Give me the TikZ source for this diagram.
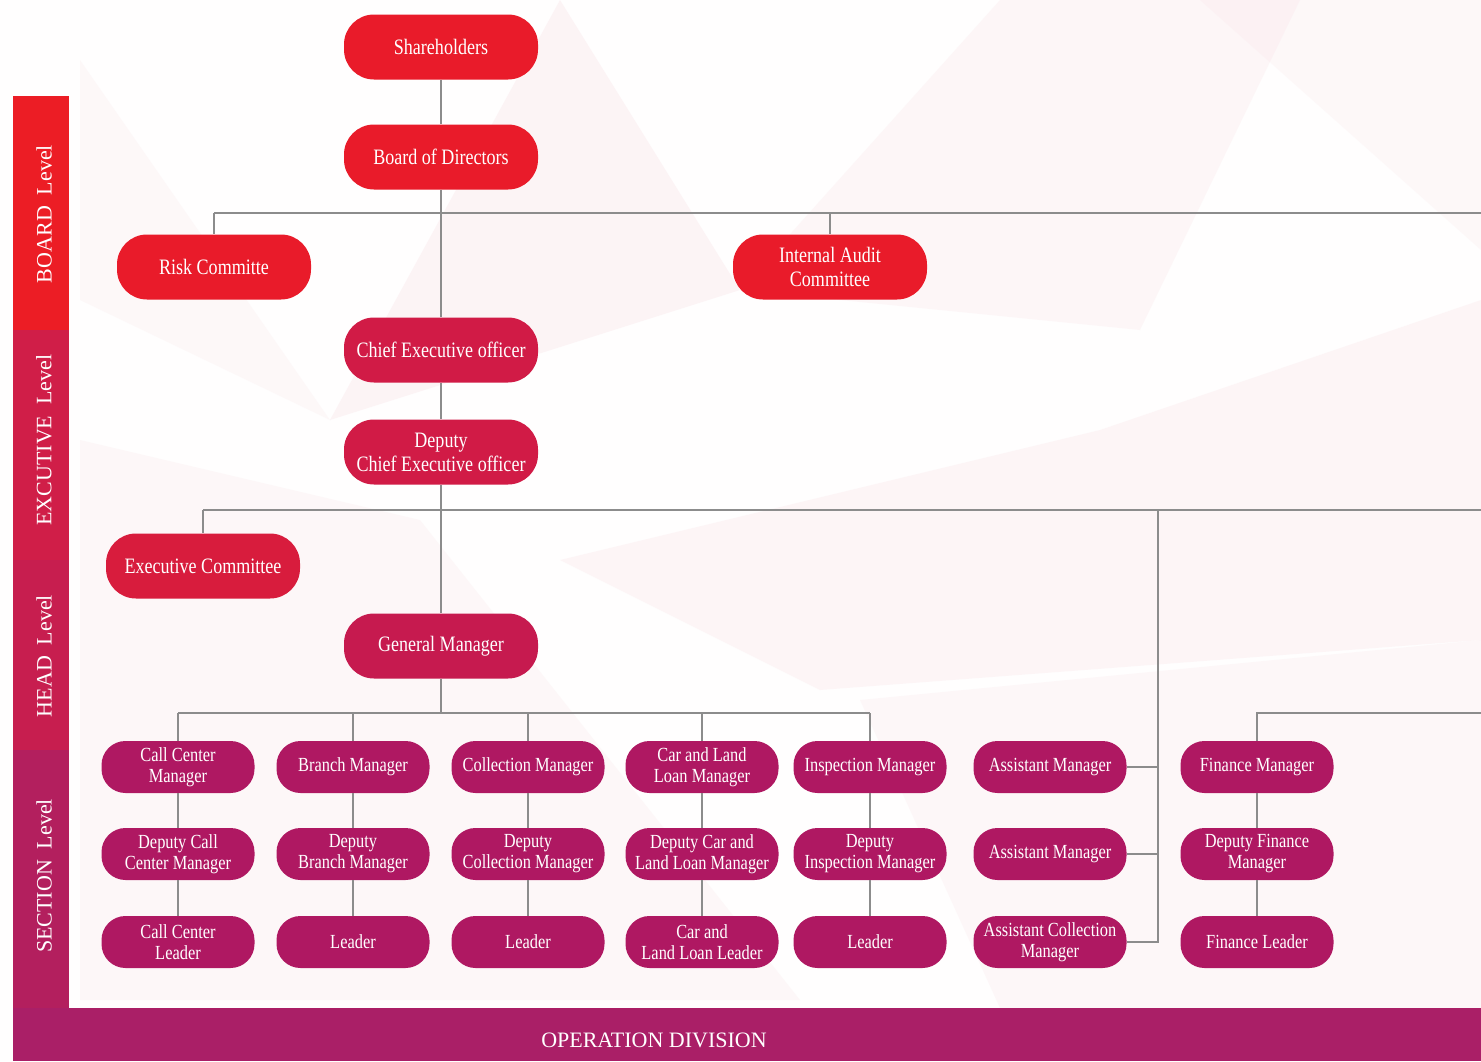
\documentclass[tikz,border=0pt]{standalone}
\usepackage{fontspec}
\setmainfont{Liberation Serif}[FakeStretch=0.82]
\newfontfamily\widefont{Liberation Serif}
\usetikzlibrary{positioning}

\definecolor{boardred}{HTML}{E91B2A}
\definecolor{execred}{HTML}{D11B46}
\definecolor{comred}{HTML}{D81C3D}
\definecolor{headred}{HTML}{C61A4F}
\definecolor{sectred}{HTML}{AF1862}
\definecolor{barboard}{HTML}{EC1D25}
\definecolor{barexec}{HTML}{D01E48}
\definecolor{barhead}{HTML}{C71E4F}
\definecolor{barsect}{HTML}{B31F5E}
\definecolor{opdiv}{HTML}{AA1F67}
\definecolor{linkgray}{HTML}{8C8C8C}
\definecolor{bgpink}{HTML}{F8DDE2}

\begin{document}
\begin{tikzpicture}[x=1pt, y=-1pt,
  big/.style={fill=#1, text=white, rounded corners=30pt, minimum width=194pt,
    minimum height=65pt, align=center, inner sep=2pt,
    font=\fontsize{22}{24}\selectfont},
  small/.style={fill=sectred, text=white, rounded corners=24pt, minimum width=153pt,
    minimum height=52pt, align=center, inner sep=1pt,
    font=\fontsize{20}{21}\selectfont},
  levelbar/.style={text=white, rotate=90, font=\widefont\fontsize{22}{24}\selectfont},
  link/.style={draw=linkgray, line width=1.6pt}]
  \useasboundingbox (0,0) rectangle (1481,1061);
  % background
  \fill[white!96!bgpink] (0,0) rectangle (1481,1061);
  \fill[bgpink, opacity=0.30] (560,0) -- (740,290) -- (330,420) -- cycle;
  \fill[bgpink, opacity=0.22] (740,290) -- (1000,0) -- (1300,0) -- (1140,330) -- cycle;
  \fill[bgpink, opacity=0.20] (80,440) -- (420,520) -- (800,1000) -- (80,1000) -- cycle;
  \fill[bgpink, opacity=0.25] (560,560) -- (1100,430) -- (1481,300) -- (1481,640) -- (820,690) -- cycle;
  \fill[bgpink, opacity=0.18] (1200,0) -- (1481,0) -- (1481,250) -- cycle;
  \fill[bgpink, opacity=0.20] (860,700) -- (1481,640) -- (1481,1008) -- (1000,1008) -- cycle;
  \fill[bgpink, opacity=0.18] (80,60) -- (330,420) -- (80,300) -- cycle;

  % level bar
  \fill[barboard] (13,96) rectangle (69,330);
  \fill[barexec] (13,330) rectangle (69,560);
  \fill[barhead] (13,560) rectangle (69,750);
  \fill[barsect] (13,750) rectangle (69,1010);
  \fill[opdiv] (13,1008) rectangle (1481,1061);
  \node[levelbar] (lvboard) at (44,214) {BOARD\ \ Level};
  \node[levelbar] (lvexec) at (44,440) {EXCUTIVE\ \ Level};
  \node[levelbar] (lvhead) at (44,656) {HEAD\ \ Level};
  \node[levelbar] (lvsect) at (44,876) {SECTION\ \ Level};
  \node[text=white, font=\widefont\fontsize{22}{24}\selectfont] (opdivtxt) at (654,1040) {OPERATION DIVISION};

  % board and executive level
  \node[big=boardred] (share) at (441,47) {Shareholders};
  \node[big=boardred] (board) at (441,157) {Board of Directors};
  \node[big=boardred] (risk) at (214,267) {Risk Committe};
  \node[big=boardred] (audit) at (830,267) {Internal Audit\\Committee};
  \node[big=execred] (ceo) at (441,350) {Chief Executive officer};
  \node[big=execred] (dceo) at (441,452) {Deputy\\Chief Executive officer};
  \node[big=comred] (excom) at (203,566) {Executive Committee};
  \node[big=headred] (gm) at (441,646) {General Manager};

  % section level
  \node[small] (call1) at (178,767) {Call Center\\Manager};
  \node[small] (call2) at (178,854) {Deputy Call\\Center Manager};
  \node[small] (call3) at (178,942) {Call Center\\Leader};
  \node[small] (branch1) at (353,767) {Branch Manager};
  \node[small] (branch2) at (353,854) {Deputy\\Branch Manager};
  \node[small] (branch3) at (353,942) {Leader};
  \node[small] (coll1) at (528,767) {Collection Manager};
  \node[small] (coll2) at (528,854) {Deputy\\Collection Manager};
  \node[small] (coll3) at (528,942) {Leader};
  \node[small] (car1) at (702,767) {Car and Land\\Loan Manager};
  \node[small] (car2) at (702,854) {Deputy Car and\\Land Loan Manager};
  \node[small] (car3) at (702,942) {Car and\\Land Loan Leader};
  \node[small] (insp1) at (870,767) {Inspection Manager};
  \node[small] (insp2) at (870,854) {Deputy\\Inspection Manager};
  \node[small] (insp3) at (870,942) {Leader};
  \node[small] (asst1) at (1050,767) {Assistant Manager};
  \node[small] (asst2) at (1050,854) {Assistant Manager};
  \node[small] (asst3) at (1050,942) {Assistant Collection\\Manager};
  \node[small] (fin1) at (1257,767) {Finance Manager};
  \node[small] (fin2) at (1257,854) {Deputy Finance\\Manager};
  \node[small] (fin3) at (1257,942) {Finance Leader};

  % junctions
  \coordinate (bl) at (214,213);
  \coordinate (br) at (1481,213);
  \coordinate (el) at (203,510);
  \coordinate (er) at (1481,510);
  \coordinate (at) at (1158,510);
  \coordinate (sl) at (441,713);
  \coordinate (fr) at (1481,713);

  % connectors
  \path[link] (share) -- (board) (board) -- (ceo) (ceo) -- (dceo) (dceo) -- (gm);
  \draw[link] (bl) -- (br);
  \draw[link] (bl) -- (risk);
  \draw[link] (audit |- bl) -- (audit);
  \draw[link] (el) -- (er);
  \draw[link] (el) -- (excom);
  \draw[link] (gm) -- (sl);
  \draw[link] (call1 |- sl) -- (insp1 |- sl);
  \foreach \c in {call,branch,coll,car,insp} {
    \draw[link] (\c1 |- sl) -- (\c1);
  }
  \foreach \c in {call,branch,coll,car,insp,fin} {
    \draw[link] (\c1) -- (\c2) -- (\c3);
  }
  \draw[link] (at) |- (asst3);
  \draw[link] (asst1) -- (asst1 -| at);
  \draw[link] (asst2) -- (asst2 -| at);
  \draw[link] (fin1) |- (fr);
\end{tikzpicture}
\end{document}
